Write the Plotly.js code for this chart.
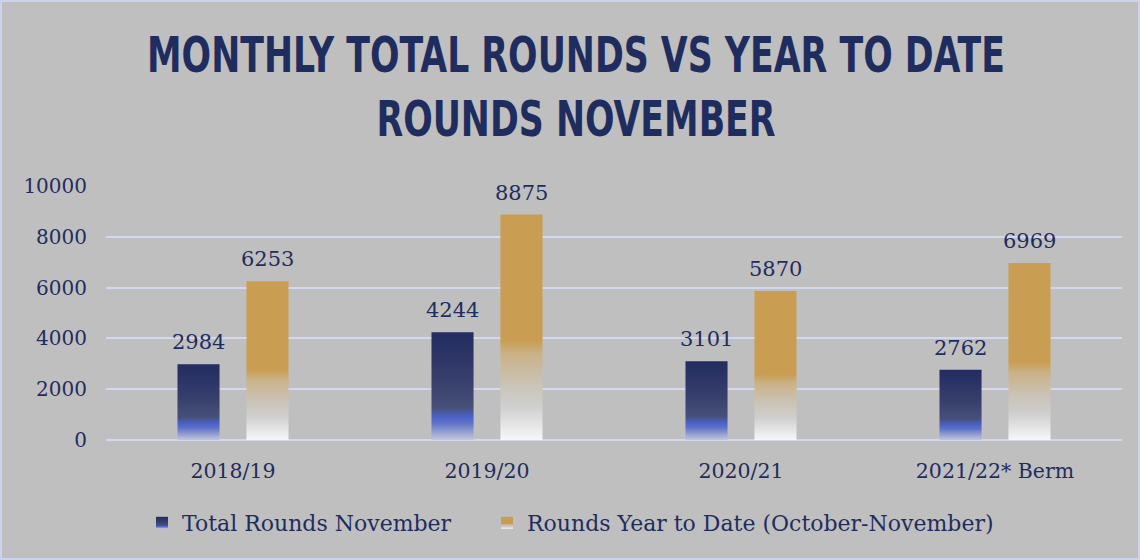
<!DOCTYPE html>
<html>
<head>
<meta charset="utf-8">
<script src="https://cdn.plot.ly/plotly-3.0.1.min.js"></script>
<style>
  html, body { margin: 0; padding: 0; background: #bfbfbf; }
  #chart { width: 1140px; height: 560px; box-sizing: border-box; border: 2px solid #ccd3ee; }
</style>
</head>
<body>
<div id="chart"></div>
<script>
const categories = ["2018/19", "2019/20", "2020/21", "2021/22* Berm"];
const totalRoundsNovember = [2984, 4244, 3101, 2762];
const roundsYearToDate = [6253, 8875, 5870, 6969];
const seriesNames = ["Total Rounds November", "Rounds Year to Date (October-November)"];
const yTicks = [0, 2000, 4000, 6000, 8000, 10000];

const navy = "#1f2d5e";
const serif = "DejaVu Serif, Liberation Serif, serif";

const W = 1136, H = 556;
const margin = { l: 104, r: 16, t: 184, b: 118 };
const bargap = 0.457, bargroupgap = 0.39;

const traces = [
  {
    type: "bar", name: seriesNames[0], x: categories, y: totalRoundsNovember,
    marker: { color: "#2a3566" }, hoverinfo: "x+y", legend: "legend"
  },
  {
    type: "bar", name: seriesNames[1], x: categories, y: roundsYearToDate,
    marker: { color: "#c99e52" }, hoverinfo: "x+y", legend: "legend2"
  }
];

// value labels above each bar, positioned through the category axis + pixel offset of the bar slot
const catPx = (W - margin.l - margin.r) / categories.length;
const slotPx = catPx * (1 - bargap) / 2;
const annotations = [];
[totalRoundsNovember, roundsYearToDate].forEach(function (vals, si) {
  vals.forEach(function (v, i) {
    annotations.push({
      x: categories[i], y: v, xref: "x", yref: "y",
      text: String(v), showarrow: false,
      xshift: (si === 0 ? -1 : 1) * slotPx / 2, yshift: 8,
      yanchor: "bottom", xanchor: "center",
      font: { family: serif, size: 21, color: navy }
    });
  });
});

const legendBase = {
  orientation: "h", xref: "container", yref: "container",
  xanchor: "left", y: 1 - 521 / H, yanchor: "middle",
  font: { family: serif, size: 22, color: navy },
  bgcolor: "rgba(0,0,0,0)", itemwidth: 30
};

const layout = {
  width: W, height: H,
  paper_bgcolor: "#bfbfbf", plot_bgcolor: "#bfbfbf",
  margin: margin,
  title: {
    text: "<b>MONTHLY TOTAL ROUNDS VS YEAR TO DATE<br>ROUNDS NOVEMBER</b>",
    font: { family: "DejaVu Sans Condensed, Liberation Sans Narrow, sans-serif", size: 49, color: navy },
    x: 0.5, xanchor: "center", xref: "container",
    y: 1 - 70 / H, yanchor: "middle", yref: "container"
  },
  bargap: bargap, bargroupgap: bargroupgap,
  annotations: annotations,
  xaxis: {
    type: "category", showgrid: false, zeroline: false, showline: false,
    tickfont: { family: serif, size: 20.5, color: navy }, ticks: "", ticklabelstandoff: 16
  },
  yaxis: {
    range: [0, 10000], tickvals: yTicks, ticktext: yTicks.map(String),
    showgrid: true, gridcolor: "#d3d8ee", gridwidth: 2,
    zeroline: true, zerolinecolor: "#d3d8ee", zerolinewidth: 2,
    showline: false, ticks: "", ticklabelstandoff: 18,
    tickfont: { family: serif, size: 20, color: navy }
  },
  showlegend: true,
  legend: Object.assign({}, legendBase, { x: 140 / W }),
  legend2: Object.assign({}, legendBase, { x: 485 / W })
};

const gradients = {
  gBlue: [[0, "#212c60"], [0.45, "#373f6c"], [0.7, "#475079"], [0.78, "#4a60c6"], [0.84, "#5d70c8"], [1, "#c4c7d8"]],
  gGold: [[0, "#c99e52"], [0.56, "#c99e52"], [0.62, "#cab287"], [0.75, "#cac3b6"], [0.85, "#cfcfcf"], [1, "#f7f7f7"]]
};

function ensureDefs() {
  if (document.getElementById("gradDefs")) return;
  const ns = "http://www.w3.org/2000/svg";
  const svg = document.createElementNS(ns, "svg");
  svg.setAttribute("id", "gradDefs");
  svg.setAttribute("width", "0"); svg.setAttribute("height", "0");
  svg.style.position = "absolute";
  const defs = document.createElementNS(ns, "defs");
  Object.keys(gradients).forEach(function (id) {
    const lg = document.createElementNS(ns, "linearGradient");
    lg.setAttribute("id", id);
    lg.setAttribute("x1", "0"); lg.setAttribute("y1", "0");
    lg.setAttribute("x2", "0"); lg.setAttribute("y2", "1");
    gradients[id].forEach(function (s) {
      const st = document.createElementNS(ns, "stop");
      st.setAttribute("offset", s[0]);
      st.setAttribute("stop-color", s[1]);
      lg.appendChild(st);
    });
    defs.appendChild(lg);
  });
  svg.appendChild(defs);
  document.body.appendChild(svg);
}

function styleChart(gd) {
  ensureDefs();
  const ids = ["gBlue", "gGold"];
  gd.querySelectorAll(".barlayer .trace.bars").forEach(function (tr, i) {
    tr.querySelectorAll(".point path").forEach(function (p) { p.style.fill = "url(#" + ids[i] + ")"; });
  });
  const legs = [".legend", ".legend2"];
  legs.forEach(function (sel, i) {
    gd.querySelectorAll(sel + " .legendpoints path").forEach(function (p) { p.style.fill = "url(#" + ids[i] + ")"; });
  });
  // condense the title horizontally (the original uses a narrow display face)
  const t = gd.querySelector(".gtitle");
  if (t && !t.dataset.squeezed) {
    const bb = t.getBBox();
    const cx = bb.x + bb.width / 2;
    const targetW = 858, targetCx = 574;
    const s = targetW / bb.width;
    t.setAttribute("transform", "translate(" + targetCx + ",0) scale(" + s + ",1) translate(" + (-cx) + ",0)");
    t.dataset.squeezed = "1";
  }
}

const gd = document.getElementById("chart");
Plotly.newPlot(gd, traces, layout, { displayModeBar: false, staticPlot: true }).then(function () {
  styleChart(gd);
  gd.on("plotly_afterplot", function () { styleChart(gd); });
});
</script>
</body>
</html>
